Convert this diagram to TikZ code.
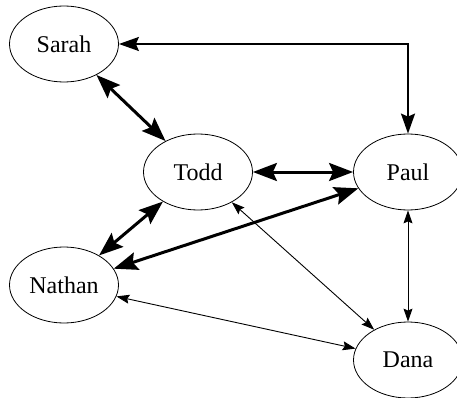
\documentclass[tikz,border=0pt]{standalone}
\usepackage{fontspec}
\setmainfont{Liberation Serif}
\usetikzlibrary{arrows.meta,shapes.geometric}
\begin{document}
\begin{tikzpicture}[x=1pt,y=-1pt,
  person/.style={ellipse,draw,line width=0.8pt,minimum width=109pt,minimum height=76pt,inner sep=0pt,font=\fontsize{24}{27}\selectfont},
  heavy/.style={line width=3pt,{Stealth[length=24pt,width=18pt,inset=4pt]}-{Stealth[length=24pt,width=18pt,inset=4pt]}},
  medium/.style={line width=2pt,{Stealth[length=20pt,width=14pt,inset=3pt]}-{Stealth[length=20pt,width=14pt,inset=3pt]}},
  light/.style={line width=0.9pt,{Stealth[length=13pt,width=9pt,inset=2pt]}-{Stealth[length=13pt,width=9pt,inset=2pt]}}]
\useasboundingbox (0,0) rectangle (457,398);
\node[person] (sarah) at (64,44) {Sarah};
\node[person] (todd) at (198,172) {Todd};
\node[person] (paul) at (408,172) {Paul};
\node[person] (nathan) at (64,285) {Nathan};
\node[person] (dana) at (408,360) {Dana};
\coordinate (corner) at (408,44);
\draw[medium,line join=miter] (sarah.east) -- (corner) -- (paul.north);
\draw[heavy] (sarah) -- (todd);
\draw[heavy] (todd) -- (paul);
\draw[heavy] (todd) -- (nathan);
\draw[heavy] (nathan) -- (paul);
\draw[light] (todd) -- (dana);
\draw[light] (paul) -- (dana);
\draw[light] (nathan) -- (dana);
\end{tikzpicture}
\end{document}
